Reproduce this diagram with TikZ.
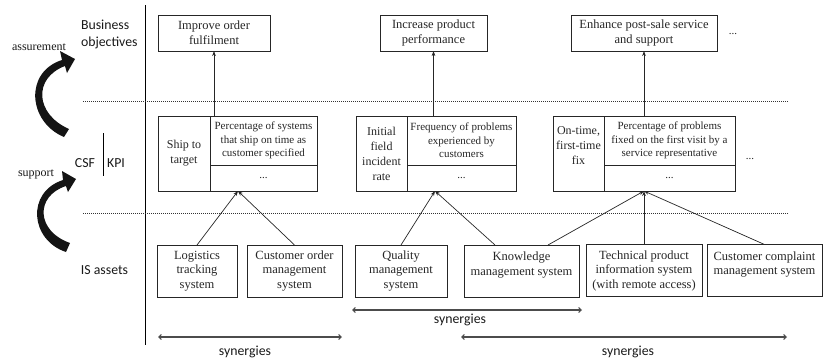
\documentclass[tikz,border=0pt]{standalone}
\usepackage{fontspec}
\setmainfont{Liberation Serif}
\newfontfamily\labelfont{Carlito}
\usetikzlibrary{arrows.meta,calc}

\begin{document}
\begin{tikzpicture}[x=1pt,y=-1pt,
  every node/.style={inner sep=0pt,outer sep=0pt},
  boxline/.style={draw=black!85,line width=0.7pt},
  topbox/.style={boxline,align=center,text=black!85,font=\fontsize{12.5}{15}\selectfont},
  isbox/.style={boxline,align=center,text=black!85,font=\fontsize{12.5}{14.5}\selectfont},
  csfbox/.style={boxline,align=center,text=black!85,font=\fontsize{12}{15}\selectfont},
  kpibox/.style={boxline,align=center,text=black!85,font=\fontsize{11}{13.5}\selectfont},
  sidelabel/.style={align=left,text=black!90,font=\labelfont\fontsize{13.8}{17}\selectfont},
  synlabel/.style={text=black!90,font=\labelfont\fontsize{13.8}{17}\selectfont},
  flowlabel/.style={text=black!90,font=\fontsize{12}{14}\selectfont},
  more/.style={text=black!85,font=\fontsize{11}{13}\selectfont},
  uparr/.style={draw=black!85,line width=0.7pt,-{Stealth[length=5pt,width=3.6pt]}},
  synarr/.style={draw=black!70,line width=1.1pt,{Straight Barb[length=2.6pt,width=5pt]}-{Straight Barb[length=2.6pt,width=5pt]}},
  separator/.style={draw=black!80,line width=0.6pt,dash pattern=on 0.8pt off 1.2pt},
  bigarrow/.style={fill=black!92,draw=none}
]
\useasboundingbox (0,0) rectangle (833,362);

% left axis
\coordinate (axt) at (145,5);
\coordinate (axb) at (145,345);
\draw[black,line width=0.8pt] (axt) -- (axb);

% level separators
\coordinate (s1a) at (83,101);
\coordinate (s1b) at (788,101);
\coordinate (s2a) at (83,213);
\coordinate (s2b) at (788,213);
\draw[separator] (s1a) -- (s1b);
\draw[separator] (s2a) -- (s2b);

% row labels
\node[sidelabel,anchor=west] (lbo) at (81,34) {Business\\objectives};
\node[synlabel] (lcsf) at (85,163) {CSF};
\node[synlabel] (lkpi) at (116,163) {KPI};
\coordinate (bart) at (103,133);
\coordinate (barb) at (103,176);
\draw[black,line width=0.8pt] (bart) -- (barb);
\node[synlabel] (lis) at (104.5,270) {IS assets};

% curved arrows between levels
\node[flowlabel] (lass) at (39,47) {assurement};
\fill[bigarrow] (64,137) .. controls (28,122) and (24,72) .. (62,60)
  -- (60,51) -- (75,59) -- (67,73) -- (65,66)
  .. controls (33,78) and (35,114) .. (69,129) -- cycle;
\node[flowlabel] (lsup) at (36,174) {support};
\fill[bigarrow] (66,252) .. controls (30,240) and (26,192) .. (63,180)
  -- (62,171) -- (76,179) -- (68,192) -- (66,186)
  .. controls (35,196) and (36,231) .. (70,243) -- cycle;

% business objectives
\node[topbox,minimum width=112pt,minimum height=36pt] (top1) at (214,33) {Improve order\\fulfilment};
\node[topbox,minimum width=107pt,minimum height=36pt] (top2) at (433.5,33) {Increase product\\performance};
\node[topbox,minimum width=146pt,minimum height=36pt] (top3) at (644,33) {Enhance post-sale service\\and support};
\node[more] (moretop) at (733,34) {...};

% CSF / KPI boxes
\node[csfbox,minimum width=52pt,minimum height=75pt] (csf1) at (184,153.5) {Ship to\\target};
\node[kpibox,minimum width=107pt,minimum height=49pt] (kpi1) at (263.5,140.5) {Percentage of systems\\that ship on time as\\customer specified};
\node[kpibox,minimum width=107pt,minimum height=26pt] (dots1) at (263.5,178) {...};

\node[csfbox,minimum width=51pt,minimum height=75pt] (csf2) at (381.5,153.5) {Initial\\field\\incident\\rate};
\node[kpibox,minimum width=109pt,minimum height=49pt] (kpi2) at (461.5,140.5) {Frequency of problems\\experienced by\\customers};
\node[kpibox,minimum width=109pt,minimum height=26pt] (dots2) at (461.5,178) {...};

\node[csfbox,minimum width=51pt,minimum height=75pt] (csf3) at (578.5,153.5) {On-time,\\first-time\\fix\\~};
\node[kpibox,minimum width=131pt,minimum height=49pt] (kpi3) at (669.5,140.5) {Percentage of problems\\fixed on the first visit by a\\service representative};
\node[kpibox,minimum width=131pt,minimum height=26pt] (dots3) at (669.5,178) {...};
\node[more] (morecsf) at (750,159) {...};

% IS assets
\node[isbox,minimum width=80pt,minimum height=52pt] (is1) at (197,271) {Logistics\\tracking\\system};
\node[isbox,minimum width=95pt,minimum height=52pt] (is2) at (294.5,271) {Customer order\\management\\system};
\node[isbox,minimum width=92pt,minimum height=52pt] (is3) at (401,271) {Quality\\management\\system};
\node[isbox,minimum width=115pt,minimum height=52pt] (is4) at (521.5,271) {Knowledge\\management system\\~};
\node[isbox,minimum width=116pt,minimum height=52pt] (is5) at (644,270.5) {Technical product\\information system\\(with remote access)};
\node[isbox,minimum width=115pt,minimum height=52pt] (is6) at (764.5,270.5) {Customer complaint\\management system\\~};

% CSF/KPI to objectives
\draw[uparr] (kpi1.north -| top1.south) -- (top1.south);
\draw[uparr] (kpi2.north -| top2.south) -- (top2.south);
\draw[uparr] (kpi3.north -| top3.south) -- (top3.south);

% IS assets to KPIs
\coordinate (h1) at ($(dots1.south west)+(28,0)$);
\coordinate (h2) at ($(dots2.south west)+(28,0)$);
\coordinate (h3) at (dots3.south -| is5.north);
\coordinate (k1) at ([xshift=-26.5pt]is4.north);
\coordinate (k2) at ([xshift=26.5pt]is4.north);
\draw[uparr] (is1.north) -- (h1);
\draw[uparr] (is2.north) -- (h1);
\draw[uparr] (is3.north) -- (h2);
\draw[uparr] (k1) -- (h2);
\draw[uparr] (k2) -- (h3);
\draw[uparr] (is5.north) -- (h3);
\draw[uparr] (is6.north) -- (h3);

% synergies
\coordinate (y1a) at (158,337);
\coordinate (y1b) at (342,337);
\coordinate (y2a) at (352,310);
\coordinate (y2b) at (582,310);
\coordinate (y3a) at (461,337);
\coordinate (y3b) at (787,337);
\draw[synarr] (y1a) -- (y1b);
\draw[synarr] (y2a) -- (y2b);
\draw[synarr] (y3a) -- (y3b);
\node[synlabel] (syn1) at (245,352) {synergies};
\node[synlabel] (syn2) at (460,320) {synergies};
\node[synlabel] (syn3) at (628,352) {synergies};
\end{tikzpicture}
\end{document}
